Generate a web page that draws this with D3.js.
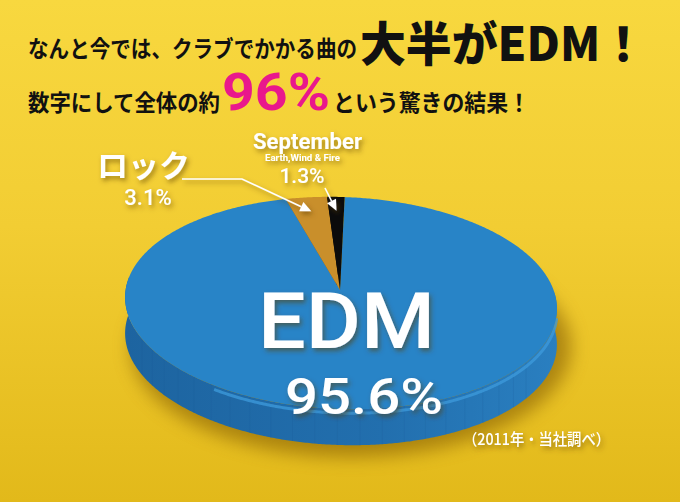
<!DOCTYPE html>
<html><head><meta charset="utf-8">
<script src="https://cdn.jsdelivr.net/npm/d3@7"></script>
<style>html,body{margin:0;padding:0;background:#f0c92e;overflow:hidden}</style>
</head><body>
<svg id="chart" width="680" height="502"></svg>
<script>
// ---- data ----
const categories = ["EDM", "ロック", "September"];
const subLabels = ["", "", "Earth,Wind & Fire"];
const values = [95.6, 3.1, 1.3];
const sliceColors = ["#2884c7", "#c98f2b", "#0b0b0b"];
const titleLine1 = ["なんと今では、クラブでかかる曲の", "大半がEDM！"];
const titleLine2 = ["数字にして全体の約", "96%", "という驚きの結果！"];
const sourceNote = "（2011年・当社調べ）";

// ---- layout ----
const W = 680, H = 502;
const svg = d3.select("#chart");
const defs = svg.append("defs");

const bg = defs.append("linearGradient").attr("id","bg").attr("x1",0).attr("y1",0).attr("x2",0).attr("y2",1);
bg.append("stop").attr("offset","0%").attr("stop-color","#f8d83f");
bg.append("stop").attr("offset","45%").attr("stop-color","#f2cd33");
bg.append("stop").attr("offset","100%").attr("stop-color","#e2b91a");

const side = defs.append("linearGradient").attr("id","side").attr("x1",0).attr("y1",0).attr("x2",1).attr("y2",0);
side.append("stop").attr("offset","0%").attr("stop-color","#1d64a0");
side.append("stop").attr("offset","60%").attr("stop-color","#226fae");
side.append("stop").attr("offset","100%").attr("stop-color","#2a7fc0");

const blur = defs.append("filter").attr("id","pshadow").attr("x","-20%").attr("y","-20%").attr("width","140%").attr("height","140%");
blur.append("feGaussianBlur").attr("stdDeviation",9);

const ts = defs.append("filter").attr("id","tshadow").attr("x","-20%").attr("y","-30%").attr("width","150%").attr("height","170%");
ts.append("feGaussianBlur").attr("in","SourceAlpha").attr("stdDeviation",2.5).attr("result","b");
ts.append("feOffset").attr("in","b").attr("dx",2).attr("dy",3).attr("result","o");
ts.append("feFlood").attr("flood-color","#5a3c00").attr("flood-opacity",0.55);
ts.append("feComposite").attr("in2","o").attr("operator","in").attr("result","s");
const mg = ts.append("feMerge");
mg.append("feMergeNode").attr("in","s");
mg.append("feMergeNode").attr("in","SourceGraphic");

svg.append("rect").attr("width",W).attr("height",H).attr("fill","url(#bg)");

// ---- pie geometry ----
const cx = 341, cy = 303, rx = 216, ry = 106, depth = 36, rot = 2 * Math.PI / 180;
const apex = [340, 290];
const pt = (a, dy = 0) => {
  const lx = rx * Math.sin(a), ly = -ry * Math.cos(a);
  return [cx + lx * Math.cos(rot) - ly * Math.sin(rot), cy + dy + lx * Math.sin(rot) + ly * Math.cos(rot)];
};
const deg = Math.PI / 180;
const arcPts = (a0, a1, dy = 0) => d3.range(a0, a1, 0.5 * deg).concat([a1]).map(a => pt(a, dy));
const line = d3.line();

const pie = d3.pie().sort(null).value(d => d)(values);
const color = d3.scaleOrdinal().domain(categories).range(sliceColors);

const g = svg.append("g");

// drop shadow
g.append("ellipse").attr("cx", cx + 10).attr("cy", cy + depth + 8).attr("rx", rx + 4).attr("ry", ry + 4)
  .attr("fill", "#7a5200").attr("opacity", 0.55).attr("filter", "url(#pshadow)");

// side wall (front half)
const sidePts = arcPts(80 * deg, 280 * deg).concat(arcPts(80 * deg, 280 * deg, depth).reverse());
g.append("path").attr("d", line(sidePts) + "Z").attr("fill", "url(#side)");
// subtle vertical seams on the wall
d3.range(120, 250, 6).forEach(a => {
  const p0 = pt(a * deg), p1 = pt(a * deg, depth);
  g.append("line").attr("x1", p0[0]).attr("y1", p0[1]).attr("x2", p1[0]).attr("y2", p1[1])
    .attr("stroke", "#1a5a92").attr("stroke-opacity", 0.15).attr("stroke-width", 1);
});
// lighter rim band on the wall
g.append("path").attr("d", line(arcPts(92 * deg, 215 * deg, 4))).attr("fill", "none")
  .attr("stroke", "#3e9bdc").attr("stroke-width", 3).attr("stroke-opacity", 0.75);

// top faces
const slicePath = d => line([apex].concat(arcPts(d.startAngle, d.endAngle))) + "Z";
pie.forEach((d, i) => {
  if (i > 0) {
    g.append("path").attr("d", slicePath(d)).attr("transform", "translate(-3,1)").attr("fill", i === 1 ? "#8a5a14" : "#000");
  }
});
pie.forEach((d, i) => {
  g.append("path").attr("d", slicePath(d)).attr("fill", color(categories[i]));
});

// ---- titles ----
const jp = "'Noto Sans CJK JP', 'Noto Sans', sans-serif";
const t1 = svg.append("g").attr("font-family", jp);
t1.append("text").attr("x", 28).attr("y", 57).attr("font-size", 23).attr("font-weight", 700)
  .attr("textLength", 329).attr("lengthAdjust", "spacingAndGlyphs").attr("fill", "#111").text(titleLine1[0]);
t1.append("text").attr("x", 360).attr("y", 61).attr("font-size", 47).attr("font-weight", 900)
  .attr("textLength", 286).attr("lengthAdjust", "spacingAndGlyphs").attr("fill", "#111").text(titleLine1[1]);
t1.append("text").attr("x", 28).attr("y", 111).attr("font-size", 23).attr("font-weight", 700)
  .attr("textLength", 192).attr("lengthAdjust", "spacingAndGlyphs").attr("fill", "#111").text(titleLine2[0]);
t1.append("text").attr("x", 222).attr("y", 110).attr("font-size", 52).attr("font-weight", 700)
  .attr("font-family", "Roboto, 'Noto Sans', sans-serif")
  .attr("textLength", 108).attr("lengthAdjust", "spacingAndGlyphs").attr("fill", "#e9188c").text(titleLine2[1]);
t1.append("text").attr("x", 333).attr("y", 111).attr("font-size", 23).attr("font-weight", 700)
  .attr("textLength", 197).attr("lengthAdjust", "spacingAndGlyphs").attr("fill", "#111").text(titleLine2[2]);

// ---- labels ----
const fmt = v => d3.format(".1f")(v) + "%";
const lab = svg.append("g").attr("fill", "#fff").attr("filter", "url(#tshadow)");
const lat = "Roboto, 'Liberation Sans', sans-serif";

// EDM
lab.append("text").attr("x", 258).attr("y", 348).attr("font-family", lat).attr("font-weight", 500)
  .attr("font-size", 78).attr("textLength", 177).attr("lengthAdjust", "spacingAndGlyphs").text(categories[0]);
lab.append("text").attr("x", 285).attr("y", 414).attr("font-family", lat).attr("font-weight", 500)
  .attr("font-size", 50).attr("textLength", 158).attr("lengthAdjust", "spacingAndGlyphs").text(fmt(values[0]));

// Rock
lab.append("text").attr("x", 97).attr("y", 177).attr("font-family", jp).attr("font-weight", 700)
  .attr("font-size", 31).attr("textLength", 93).attr("lengthAdjust", "spacingAndGlyphs").text(categories[1]);
lab.append("text").attr("x", 148).attr("y", 205).attr("text-anchor", "middle").attr("font-family", lat).attr("font-weight", 500)
  .attr("font-size", 22).text(fmt(values[1]));

// September
lab.append("text").attr("x", 253).attr("y", 149).attr("font-family", lat).attr("font-weight", 700)
  .attr("font-size", 22).attr("textLength", 109).attr("lengthAdjust", "spacingAndGlyphs").text(categories[2]);
lab.append("text").attr("x", 265).attr("y", 161).attr("font-family", lat).attr("font-weight", 700)
  .attr("font-size", 8.5).attr("textLength", 75).attr("lengthAdjust", "spacingAndGlyphs").text(subLabels[2]);
lab.append("text").attr("x", 302).attr("y", 183).attr("text-anchor", "middle").attr("font-family", lat).attr("font-weight", 500)
  .attr("font-size", 21).text(fmt(values[2]));

// source
lab.append("text").attr("x", 463).attr("y", 445).attr("font-family", jp).attr("font-weight", 500)
  .attr("font-size", 15.5).attr("textLength", 147).attr("lengthAdjust", "spacingAndGlyphs").text(sourceNote);

// ---- leader arrows (tips derived from slice geometry) ----
const tipOf = (d, t) => {
  const m = pt((d.startAngle + d.endAngle) / 2);
  return [apex[0] + (m[0] - apex[0]) * t, apex[1] + (m[1] - apex[1]) * t];
};
const arrow = (pts) => {
  const n = pts.length, a = pts[n - 2], b = pts[n - 1];
  const ang = Math.atan2(b[1] - a[1], b[0] - a[0]);
  const L = 11, Wd = 5;
  const base = [b[0] - L * Math.cos(ang), b[1] - L * Math.sin(ang)];
  const shaft = pts.slice(0, n - 1).concat([base]);
  lab.append("path").attr("d", line(shaft)).attr("fill", "none").attr("stroke", "#fff").attr("stroke-width", 1.6);
  const p1 = [base[0] + Wd * Math.sin(ang), base[1] - Wd * Math.cos(ang)];
  const p2 = [base[0] - Wd * Math.sin(ang), base[1] + Wd * Math.cos(ang)];
  lab.append("path").attr("d", line([b, p1, p2]) + "Z").attr("fill", "#fff");
};
arrow([[182, 179], [242, 179], tipOf(pie[1], 0.85)]);
arrow([[325, 188], tipOf(pie[2], 0.85)]);
</script>
</body></html>
